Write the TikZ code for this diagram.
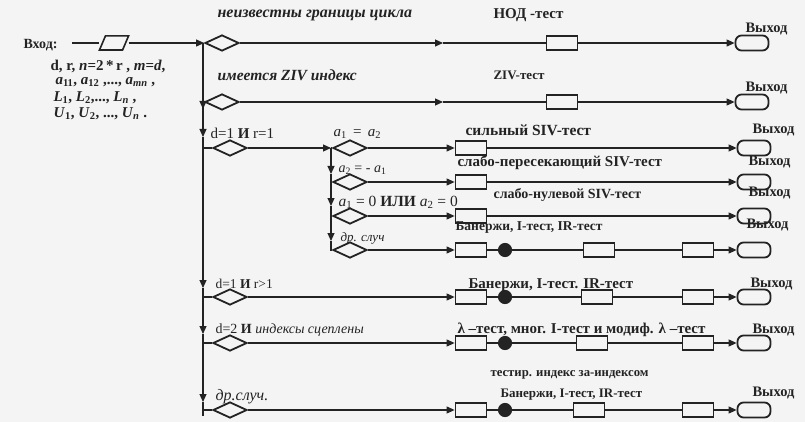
\documentclass[tikz,border=0pt]{standalone}
\usepackage{fontspec}
\setmainfont{Liberation Serif}
\usetikzlibrary{arrows.meta,shapes.geometric}
\definecolor{ink}{HTML}{232323}
\definecolor{paper}{HTML}{F4F4F4}
\begin{document}
\begin{tikzpicture}[x=1pt,y=-1pt,color=ink,line width=1.1pt,
  arr/.style={-{Triangle[length=8pt,width=7pt]}},
  lbl/.style={font=\bfseries\fontsize{#1}{#1}\selectfont,inner sep=0pt,anchor=west,text=ink},
  lbl/.default=13,
  ilbl/.style={font=\bfseries\itshape\fontsize{#1}{#1}\selectfont,inner sep=0pt,anchor=west,text=ink},
  ilbl/.default=13,
  rlbl/.style={font=\fontsize{#1}{#1}\selectfont,inner sep=0pt,anchor=west,text=ink},
  rlbl/.default=13,
  rilbl/.style={font=\itshape\fontsize{#1}{#1}\selectfont,inner sep=0pt,anchor=west,text=ink},
  rilbl/.default=13,
  exl/.style={font=\bfseries\fontsize{14.5}{15}\selectfont,inner sep=0pt,anchor=west,text=ink},
  lefttxt/.style={font=\bfseries\fontsize{15}{15}\selectfont,inner sep=0pt,anchor=west,text=ink},
  dia/.style={diamond,draw=ink,line width=1.8pt,minimum width=34pt,minimum height=16pt,inner sep=0pt},
  tbox/.style={rectangle,draw=ink,line width=1.8pt,minimum width=31pt,minimum height=14pt,inner sep=0pt},
  exitbox/.style={rectangle,rounded corners=6pt,draw=ink,line width=1.8pt,minimum width=33pt,minimum height=15pt,inner sep=0pt},
  parabox/.style={rectangle,draw=none,minimum width=28pt,minimum height=13pt,inner sep=0pt},
  dotn/.style={circle,fill=ink,draw=ink,minimum size=13pt,inner sep=0pt}]
\fill[paper] (0,0) rectangle (805,422);
\useasboundingbox (0,0) rectangle (805,422);

% input
\node[lbl=14] (vhod) at (23,45) {Вход:};
\coordinate (in0) at (72,43);
\node[parabox] (inp) at (114,43) {};
\draw[line width=1.6pt] (inp.south west) -- ([xshift=-6pt]inp.south east) -- (inp.north east) -- ([xshift=6pt]inp.north west) -- cycle;
\node[lefttxt] (l1) at (50,66) {d, r, \textit{n}=2\,*\,r , \textit{m}=\textit{d},};
\node[lefttxt] (l2) at (55,82) {\textit{a}\textsubscript{11}, \textit{a}\textsubscript{12} ,..., \textit{a}\textsubscript{\textit{mn}} ,};
\node[lefttxt] (l3) at (53,98) {\textit{L}\textsubscript{1}, \textit{L}\textsubscript{2},..., \textit{L}\textsubscript{\textit{n}} ,};
\node[lefttxt] (l4) at (53,114) {\textit{U}\textsubscript{1}, \textit{U}\textsubscript{2}, ..., \textit{U}\textsubscript{\textit{n}} .};

% trunk coordinates
\coordinate (t0) at (203,43);
\coordinate (t2) at (203,102);
\coordinate (t3) at (203,137);
\coordinate (t3b) at (203,148);
\coordinate (t4) at (203,288);
\coordinate (t4b) at (203,297);
\coordinate (t5) at (203,334);
\coordinate (t5b) at (203,343);
\coordinate (t6) at (203,402);
\coordinate (t6b) at (203,410);
\coordinate (tend) at (203,416);

% diamonds
\node[dia] (d1) at (222,43) {};
\node[dia] (d2) at (222,102) {};
\node[dia] (d3) at (230,148) {};
\node[dia] (d4) at (230,297) {};
\node[dia] (d5) at (230,343) {};
\node[dia] (d6) at (230,410) {};
\node[dia] (s1) at (350,148) {};
\node[dia] (s2) at (350,182) {};
\node[dia] (s3) at (350,216) {};
\node[dia] (s4) at (350,250) {};

% sub trunk
\coordinate (u0) at (331,148);
\coordinate (u2) at (331,174);
\coordinate (u2b) at (331,182);
\coordinate (u3) at (331,206);
\coordinate (u3b) at (331,216);
\coordinate (u4) at (331,241);
\coordinate (u4b) at (331,250);

% input connectors
\draw (in0) -- (inp.west);
\draw[arr] (inp.east) -- (d1.west);

% trunk
\draw[arr] (t0) -- ([yshift=-7pt]t2);
\draw ([yshift=-7pt]t2) -- (t2) -- (d2.west);
\draw[arr] (t2) -- (t3);
\draw (t3) -- (t3b) -- (d3.west);
\draw[arr] (t3b) -- (t4);
\draw (t4) -- (t4b) -- (d4.west);
\draw[arr] (t4b) -- (t5);
\draw (t5) -- (t5b) -- (d5.west);
\draw[arr] (t5b) -- (t6);
\draw (t6) -- (t6b) -- (d6.west);
\draw (t6b) -- (tend);

% sub trunk
\draw[arr] (d3.east) -- (u0);
\draw (u0) -- (s1.west);
\draw[arr] (u0) -- (u2);
\draw (u2) -- (u2b) -- (s2.west);
\draw[arr] (u2b) -- (u3);
\draw (u3) -- (u3b) -- (s3.west);
\draw[arr] (u3b) -- (u4);
\draw (u4) -- (u4b) -- (s4.west);

% row 1
\coordinate (m1) at (443,43);
\node[tbox] (b1) at (562,43) {};
\node[exitbox] (e1) at (752,43) {};
\draw[arr] (d1.east) -- (m1);
\draw (m1) -- (b1.west);
\draw[arr] (b1.east) -- (e1.west);
% row 2
\coordinate (m2) at (443,102);
\node[tbox] (b2) at (562,102) {};
\node[exitbox] (e2) at (752,102) {};
\draw[arr] (d2.east) -- (m2);
\draw (m2) -- (b2.west);
\draw[arr] (b2.east) -- (e2.west);
% row 3
\node[tbox] (b3) at (471,148) {};
\node[exitbox] (e3) at (754,148) {};
\draw[arr] (s1.east) -- (b3.west);
\draw[arr] (b3.east) -- (e3.west);
% row 3b
\node[tbox] (b3b) at (471,182) {};
\node[exitbox] (e3b) at (754,182) {};
\draw[arr] (s2.east) -- (b3b.west);
\draw[arr] (b3b.east) -- (e3b.west);
% row 3c
\node[tbox] (b3c) at (471,216) {};
\node[exitbox] (e3c) at (754,216) {};
\draw[arr] (s3.east) -- (b3c.west);
\draw[arr] (b3c.east) -- (e3c.west);
% row 3d
\node[tbox] (b3d) at (471,250) {};
\node[dotn] (c3d) at (505,250) {};
\node[tbox] (b3d2) at (599,250) {};
\node[tbox] (b3d3) at (698,250) {};
\node[exitbox] (e3d) at (754,250) {};
\draw[arr] (s4.east) -- (b3d.west);
\draw (b3d.east) -- (c3d) -- (b3d2.west);
\draw (b3d2.east) -- (b3d3.west);
\draw[arr] (b3d3.east) -- (e3d.west);
% row 4
\node[tbox] (b4) at (471,297) {};
\node[dotn] (c4) at (505,297) {};
\node[tbox] (b42) at (597,297) {};
\node[tbox] (b43) at (698,297) {};
\node[exitbox] (e4) at (754,297) {};
\draw[arr] (d4.east) -- (b4.west);
\draw (b4.east) -- (c4) -- (b42.west);
\draw (b42.east) -- (b43.west);
\draw[arr] (b43.east) -- (e4.west);
% row 5
\node[tbox] (b5) at (471,343) {};
\node[dotn] (c5) at (505,343) {};
\node[tbox] (b52) at (592,343) {};
\node[tbox] (b53) at (698,343) {};
\node[exitbox] (e5) at (754,343) {};
\draw[arr] (d5.east) -- (b5.west);
\draw (b5.east) -- (c5) -- (b52.west);
\draw (b52.east) -- (b53.west);
\draw[arr] (b53.east) -- (e5.west);
% row 6
\node[tbox] (b6) at (471,410) {};
\node[dotn] (c6) at (505,410) {};
\node[tbox] (b62) at (589,410) {};
\node[tbox] (b63) at (698,410) {};
\node[exitbox] (e6) at (754,410) {};
\draw[arr] (d6.east) -- (b6.west);
\draw (b6.east) -- (c6) -- (b62.west);
\draw (b62.east) -- (b63.west);
\draw[arr] (b63.east) -- (e6.west);

% labels
\node[ilbl=16] (q1) at (217,15) {неизвестны границы цикла};
\node[lbl=15] (n1) at (493,15) {НОД -тест};
\node[ilbl=15.5] (q2) at (217,75) {имеется ZIV индекс};
\node[lbl=13] (n2) at (493,75) {ZIV-тест};
\node[rlbl=15] (q3) at (210,133) {d=1 \textbf{И} r=1};
\node[rlbl=15] (q31) at (333,134) {\textit{a}\textsubscript{1} \,=\, \textit{a}\textsubscript{2}};
\node[rlbl=14] (q32) at (338,170) {\textit{a}\textsubscript{2} = - \textit{a}\textsubscript{1}};
\node[rlbl=15.5] (q33) at (338,202) {\textit{a}\textsubscript{1} = 0 \textbf{ИЛИ} \textit{a}\textsubscript{2} = 0};
\node[rilbl=13] (q34) at (340,238) {др. случ};
\node[lbl=15.5] (n3) at (465,130) {сильный SIV-тест};
\node[lbl=15] (n3b) at (457,163) {слабо-пересекающий SIV-тест};
\node[lbl=14] (n3c) at (493,195) {слабо-нулевой SIV-тест};
\node[lbl=13.5] (n3d) at (455,228) {Банержи, I-тест, IR-тест};
\node[rlbl=13.5] (q4) at (215,284) {d=1 \textbf{И} r>1};
\node[lbl=15] (n4) at (468,285) {Банержи, I-тест. IR-тест};
\node[rlbl=14] (q5) at (215,330) {d=2 \textbf{И} \textit{индексы сцеплены}};
\node[lbl=15] (n5) at (457,330) {λ –тест, мног. I-тест и модиф. λ –тест};
\node[lbl=12.7] (n6a) at (490,375) {тестир. индекс за-индексом};
\node[rilbl=16] (q6) at (215,397) {др.случ.};
\node[lbl=13] (n6) at (500,395) {Банержи, I-тест, IR-тест};

\node[exl] (x1) at (745,29) {Выход};
\node[exl] (x2) at (745,88) {Выход};
\node[exl] (x3) at (752,130) {Выход};
\node[exl] (x3b) at (748,162) {Выход};
\node[exl] (x3c) at (748,193) {Выход};
\node[exl] (x3d) at (746,225) {Выход};
\node[exl] (x4) at (750,284) {Выход};
\node[exl] (x5) at (752,330) {Выход};
\node[exl] (x6) at (752,393) {Выход};
\end{tikzpicture}
\end{document}
